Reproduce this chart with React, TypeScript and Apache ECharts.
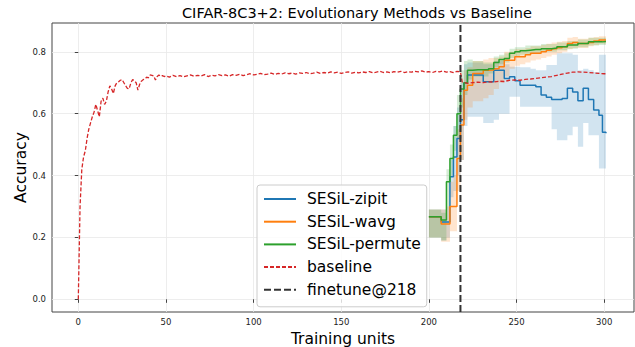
import React, { useEffect, useRef } from "react";
import * as echarts from "echarts";

// ---------- data ----------
const xTicks = [0, 50, 100, 150, 200, 250, 300];
const yTicks = [0, 0.2, 0.4, 0.6, 0.8];
const finetuneAt = 218;

const baselinePoints: [number, number][] = [
  [0, 0.0], [1, 0.3], [2, 0.42], [3, 0.46], [4, 0.48], [5, 0.52], [6, 0.55], [7, 0.57], [8, 0.59], [9, 0.605],
  [10, 0.63], [11, 0.61], [12, 0.59], [13, 0.64], [14, 0.65], [15, 0.63], [16, 0.64], [17, 0.67], [18, 0.69], [19, 0.68],
  [20, 0.665], [21, 0.69], [22, 0.7], [23, 0.703], [24, 0.708], [25, 0.71], [26, 0.7], [27, 0.69], [28, 0.682], [29, 0.68],
  [30, 0.7], [31, 0.71], [32, 0.706], [33, 0.7], [34, 0.676], [35, 0.695], [36, 0.705], [37, 0.71], [38, 0.712], [39, 0.718],
  [40, 0.716], [41, 0.725], [42, 0.724], [43, 0.722], [44, 0.709], [45, 0.72], [46, 0.725], [47, 0.721], [48, 0.723], [49, 0.72],
  [50, 0.722], [52, 0.718], [54, 0.724], [56, 0.72], [58, 0.723], [60, 0.719], [62, 0.722], [64, 0.725], [66, 0.721], [68, 0.724],
  [70, 0.722], [72, 0.726], [74, 0.72], [76, 0.724], [78, 0.722], [80, 0.726], [82, 0.723], [84, 0.725], [86, 0.721], [88, 0.726],
  [90, 0.724], [92, 0.727], [94, 0.723], [96, 0.726], [98, 0.729], [100, 0.725], [102, 0.727], [104, 0.73], [106, 0.726], [108, 0.728],
  [110, 0.731], [112, 0.727], [114, 0.73], [116, 0.728], [118, 0.732], [120, 0.729], [122, 0.731], [124, 0.728], [126, 0.732], [128, 0.73],
  [130, 0.733], [132, 0.729], [134, 0.731], [136, 0.734], [138, 0.73], [140, 0.733], [142, 0.731], [144, 0.735], [146, 0.732], [148, 0.734],
  [150, 0.73], [152, 0.733], [154, 0.735], [156, 0.731], [158, 0.734], [160, 0.732], [162, 0.735], [164, 0.733], [166, 0.736], [168, 0.732],
  [170, 0.734], [172, 0.737], [174, 0.733], [176, 0.735], [178, 0.732], [180, 0.736], [182, 0.734], [184, 0.737], [186, 0.733], [188, 0.736],
  [190, 0.734], [192, 0.737], [194, 0.735], [196, 0.738], [198, 0.734], [200, 0.736], [202, 0.733], [204, 0.737], [206, 0.735], [208, 0.738],
  [210, 0.734], [212, 0.736], [214, 0.733], [216, 0.737], [218, 0.735],
  [219, 0.702], [222, 0.698], [225, 0.7], [228, 0.702], [231, 0.7], [234, 0.703], [237, 0.702], [240, 0.705], [243, 0.704], [246, 0.708],
  [249, 0.709], [252, 0.708], [255, 0.711], [258, 0.712], [261, 0.714], [264, 0.716], [267, 0.718], [270, 0.72], [273, 0.724], [276, 0.728],
  [279, 0.731], [282, 0.734], [285, 0.735], [288, 0.734], [291, 0.733], [294, 0.732], [297, 0.73], [300, 0.729], [301, 0.729],
];

const sesilSteps = [200, 204, 207, 210, 212, 214, 216, 218, 220, 222, 225, 228, 231, 234, 237, 240, 243, 246, 249, 252, 255, 258, 261, 264, 267, 270, 273, 276, 279, 282, 285, 288, 291, 294, 297, 299, 301];

const zipitMean = [0.267, 0.267, 0.25, 0.25, 0.396, 0.46, 0.52, 0.58, 0.7, 0.725, 0.725, 0.725, 0.703, 0.703, 0.74, 0.74, 0.714, 0.719, 0.706, 0.692, 0.692, 0.692, 0.687, 0.66, 0.653, 0.646, 0.646, 0.649, 0.682, 0.67, 0.642, 0.682, 0.646, 0.612, 0.595, 0.54, 0.537];
const zipitLo = [0.2, 0.2, 0.19, 0.2, 0.33, 0.35, 0.4, 0.45, 0.56, 0.59, 0.59, 0.59, 0.57, 0.57, 0.58, 0.6, 0.6, 0.655, 0.655, 0.622, 0.622, 0.622, 0.622, 0.622, 0.622, 0.55, 0.514, 0.514, 0.53, 0.558, 0.493, 0.57, 0.53, 0.53, 0.423, 0.423, 0.423];
const zipitHi = [0.29, 0.29, 0.29, 0.3, 0.45, 0.56, 0.62, 0.7, 0.76, 0.765, 0.765, 0.765, 0.76, 0.76, 0.77, 0.77, 0.76, 0.752, 0.752, 0.75, 0.75, 0.745, 0.74, 0.74, 0.757, 0.757, 0.795, 0.795, 0.795, 0.79, 0.74, 0.745, 0.74, 0.735, 0.79, 0.79, 0.79];

const wavgMean = [0.267, 0.267, 0.243, 0.243, 0.3, 0.3, 0.455, 0.563, 0.676, 0.692, 0.73, 0.73, 0.74, 0.741, 0.745, 0.752, 0.773, 0.773, 0.784, 0.784, 0.79, 0.795, 0.795, 0.8, 0.805, 0.81, 0.813, 0.816, 0.827, 0.83, 0.827, 0.827, 0.83, 0.835, 0.838, 0.838, 0.838];
const wavgLo = [0.2, 0.2, 0.186, 0.186, 0.22, 0.22, 0.35, 0.45, 0.58, 0.62, 0.64, 0.64, 0.65, 0.66, 0.68, 0.7, 0.72, 0.745, 0.755, 0.76, 0.765, 0.772, 0.775, 0.78, 0.785, 0.79, 0.795, 0.8, 0.808, 0.812, 0.812, 0.812, 0.818, 0.822, 0.826, 0.826, 0.826];
const wavgHi = [0.29, 0.29, 0.29, 0.3, 0.38, 0.4, 0.55, 0.65, 0.74, 0.75, 0.77, 0.77, 0.775, 0.78, 0.78, 0.785, 0.8, 0.8, 0.808, 0.808, 0.812, 0.818, 0.818, 0.822, 0.826, 0.83, 0.832, 0.835, 0.845, 0.848, 0.842, 0.842, 0.845, 0.848, 0.85, 0.85, 0.85];

const permuteMean = [0.267, 0.267, 0.256, 0.38, 0.455, 0.53, 0.6, 0.68, 0.7, 0.74, 0.742, 0.742, 0.742, 0.745, 0.765, 0.775, 0.778, 0.795, 0.8, 0.803, 0.805, 0.807, 0.807, 0.81, 0.81, 0.812, 0.816, 0.816, 0.822, 0.822, 0.827, 0.827, 0.832, 0.832, 0.832, 0.833, 0.833];
const permuteLo = [0.2, 0.2, 0.19, 0.3, 0.4, 0.48, 0.52, 0.62, 0.66, 0.71, 0.72, 0.72, 0.72, 0.73, 0.75, 0.76, 0.765, 0.78, 0.785, 0.79, 0.79, 0.795, 0.795, 0.8, 0.8, 0.8, 0.805, 0.805, 0.81, 0.81, 0.815, 0.815, 0.82, 0.82, 0.822, 0.822, 0.822];
const permuteHi = [0.29, 0.29, 0.28, 0.42, 0.5, 0.56, 0.66, 0.74, 0.77, 0.775, 0.77, 0.77, 0.765, 0.765, 0.785, 0.79, 0.795, 0.81, 0.815, 0.815, 0.82, 0.82, 0.82, 0.825, 0.825, 0.825, 0.83, 0.83, 0.835, 0.835, 0.84, 0.84, 0.845, 0.845, 0.845, 0.845, 0.845];

const methods = [
  { name: "SESiL-zipit", color: "#1f77b4", band: "rgba(31,119,180,0.2)", mean: zipitMean, lo: zipitLo, hi: zipitHi },
  { name: "SESiL-wavg", color: "#ff7f0e", band: "rgba(255,127,14,0.2)", mean: wavgMean, lo: wavgLo, hi: wavgHi },
  { name: "SESiL-permute", color: "#2ca02c", band: "rgba(44,160,44,0.2)", mean: permuteMean, lo: permuteLo, hi: permuteHi },
];

const X_MIN = -15;
const X_MAX = 317;
const Y_MIN = -0.041;
const Y_MAX = 0.893;
const FONT = "DejaVu Sans";

export default function App() {
  const ref = useRef<HTMLDivElement>(null);

  useEffect(() => {
    const chart = echarts.init(ref.current!, null, { renderer: "svg" });

    const series: any[] = [];
    methods.forEach((m) => {
      series.push({
        name: m.name + " band",
        type: "custom",
        silent: true,
        z: 1,
        clip: false,
        data: [[sesilSteps[0], m.lo[0]]],
        renderItem: (_params: any, api: any) => {
          const n = sesilSteps.length;
          const pts: number[][] = [];
          for (let i = 0; i < n; i++) {
            const xa = sesilSteps[i];
            const xb = i < n - 1 ? sesilSteps[i + 1] : sesilSteps[i];
            pts.push(api.coord([xa, m.hi[i]]));
            pts.push(api.coord([xb, m.hi[i]]));
          }
          for (let i = n - 1; i >= 0; i--) {
            const xa = sesilSteps[i];
            const xb = i < n - 1 ? sesilSteps[i + 1] : sesilSteps[i];
            pts.push(api.coord([xb, m.lo[i]]));
            pts.push(api.coord([xa, m.lo[i]]));
          }
          return { type: "polygon", shape: { points: pts }, style: { fill: m.band, stroke: "none" } };
        },
      });
    });
    methods.forEach((m) => {
      series.push({
        name: m.name,
        type: "line",
        step: "end",
        symbol: "none",
        z: 2,
        color: m.color,
        lineStyle: { color: m.color, width: 1.5 },
        data: sesilSteps.map((x, i) => [x, m.mean[i]]),
      });
    });
    series.push({
      name: "baseline",
      type: "line",
      symbol: "none",
      z: 3,
      color: "#d62728",
      lineStyle: { color: "#d62728", width: 1.3, type: [4, 2] },
      data: baselinePoints,
    });
    series.push({
      name: "finetune@218",
      type: "line",
      symbol: "none",
      z: 4,
      color: "#333333",
      lineStyle: { color: "#333333", width: 2, type: [7, 3] },
      data: [
        [finetuneAt, Y_MIN],
        [finetuneAt, Y_MAX],
      ],
    });

    const option: any = {
      animation: false,
      backgroundColor: "#ffffff",
      title: {
        text: "CIFAR-8C3+2: Evolutionary Methods vs Baseline",
        left: 177,
        top: 0,
        textStyle: { fontFamily: FONT, fontSize: 14.5, fontWeight: "normal", color: "#000" },
      },
      grid: {
        left: 52,
        right: 1,
        top: 23,
        bottom: 35,
        containLabel: false,
        outerBoundsMode: "none",
        show: true,
        borderColor: "#444",
        borderWidth: 1,
        backgroundColor: "transparent",
      },
      legend: {
        data: methods.map((m) => m.name).concat(["baseline", "finetune@218"]),
        orient: "vertical",
        left: 257,
        top: 185,
        padding: [6, 6, 9, 6],
        itemGap: 6.7,
        itemWidth: 32,
        itemHeight: 14,
        backgroundColor: "rgba(255,255,255,0.8)",
        borderColor: "#cccccc",
        borderWidth: 1,
        borderRadius: 3,
        itemStyle: { opacity: 0 },
        textStyle: { fontFamily: FONT, fontSize: 15.5, color: "#000", padding: [0, 0, 0, 6] },
      },
      xAxis: {
        type: "value",
        min: X_MIN,
        max: X_MAX,
        name: "Training units",
        nameLocation: "middle",
        nameGap: 18,
        nameTextStyle: { fontFamily: FONT, fontSize: 15.5, color: "#000" },
        axisLine: { show: false },
        axisTick: { show: true, length: 3.5, lineStyle: { color: "#444" }, customValues: xTicks },
        axisLabel: { fontFamily: FONT, fontSize: 8.5, color: "#222", margin: 5, customValues: xTicks },
        splitLine: { show: true, lineStyle: { color: "#e8e8e8", width: 0.8 } },
      },
      yAxis: {
        type: "value",
        min: Y_MIN,
        max: Y_MAX,
        name: "Accuracy",
        nameLocation: "middle",
        nameGap: 23,
        nameMoveOverlap: false,
        nameTextStyle: { fontFamily: FONT, fontSize: 15.5, color: "#000" },
        axisLine: { show: false },
        axisTick: { show: true, length: 3.5, lineStyle: { color: "#444" }, customValues: yTicks },
        axisLabel: {
          fontFamily: FONT,
          fontSize: 8.5,
          color: "#222",
          margin: 6,
          customValues: yTicks,
          formatter: (v: number) => v.toFixed(1),
        },
        splitLine: { show: true, lineStyle: { color: "#e8e8e8", width: 0.8 } },
      },
      series,
    };

    chart.setOption(option);
    return () => chart.dispose();
  }, []);

  return (
    <div
      ref={ref}
      style={{ position: "fixed", left: 0, top: 0, width: 635, height: 347, background: "#fff" }}
    />
  );
}
